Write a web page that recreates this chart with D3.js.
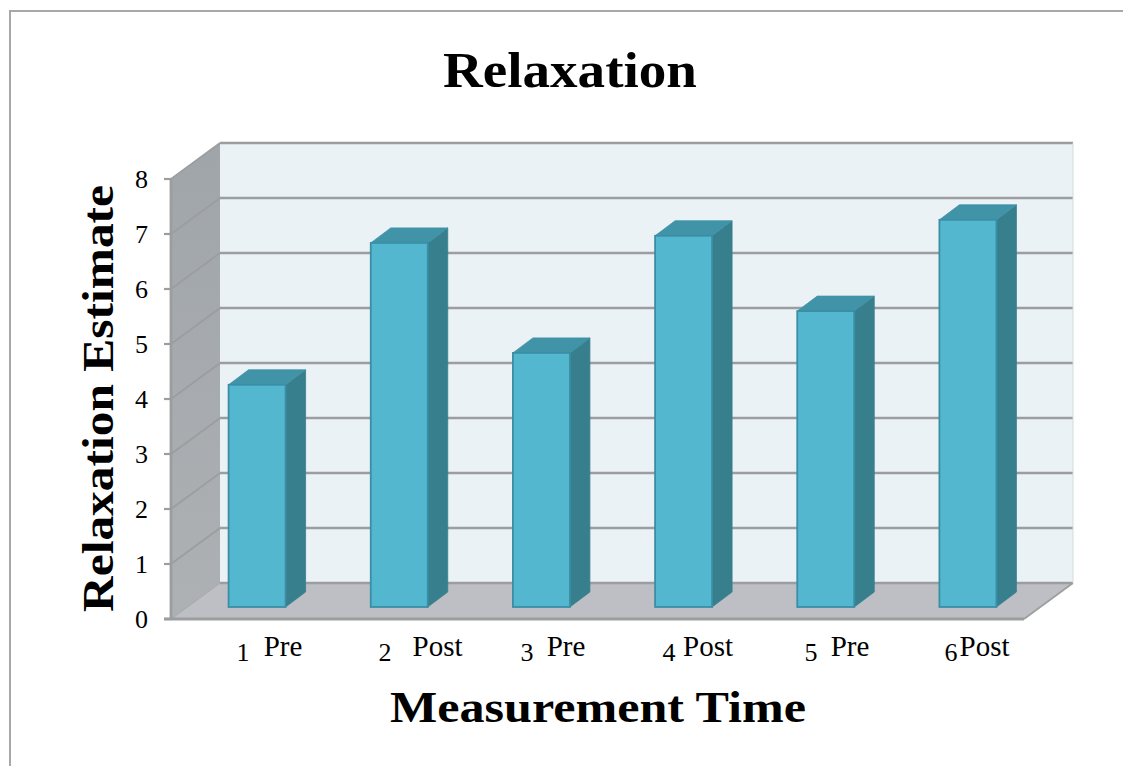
<!DOCTYPE html>
<html><head><meta charset="utf-8">
<script src="https://cdn.jsdelivr.net/npm/d3@7/dist/d3.min.js"></script>
<style>html,body{margin:0;padding:0;background:#fff}svg{display:block}text{font-family:"Liberation Serif",serif;fill:#000}</style>
</head><body><div id="chart"></div>
<script>
const categories = ["1","2","3","4","5","6"];
const phases = ["Pre","Post","Pre","Post","Pre","Post"];
const values = [4.04,6.62,4.62,6.75,5.38,7.04];
const yTicks = [0,1,2,3,4,5,6,7,8];
const phaseX = [283,437.5,566,708,850,984.5];
const catX = [243,385,527,669,811,951];

const W=1123,H=766;
const svg=d3.select("#chart").append("svg").attr("width",W).attr("height",H);
const x=d3.scaleBand().domain(categories).range([171,1024]);
const y=d3.scaleLinear().domain([0,8]).range([619,179]);
const wallDx=49,wallDy=-36, barShiftX=15,barShiftY=-12, barDx=20,barDy=-15, barW=57;
const line="#9c9d9e";

svg.append("path").attr("d",`M10,${H}V11H${W}`).attr("fill","none").attr("stroke","#a8a8a8").attr("stroke-width",2);

// walls
const xl=x.range()[0], xr=x.range()[1];
const defs=svg.append("defs");
const g=defs.append("linearGradient").attr("id","side").attr("x1",0).attr("x2",0).attr("y1",0).attr("y2",1);
g.append("stop").attr("offset",0).attr("stop-color","#a0a5a9");
g.append("stop").attr("offset",1).attr("stop-color","#adb1b4");
svg.append("rect").attr("x",xl+wallDx).attr("y",y(8)+wallDy).attr("width",xr-xl).attr("height",y(0)-y(8)).attr("fill","#eaf2f6");
svg.append("path").attr("d",`M${xl},${y(0)}L${xl+wallDx},${y(0)+wallDy}V${y(8)+wallDy}L${xl},${y(8)}Z`).attr("fill","url(#side)");
svg.append("path").attr("d",`M${xl},${y(0)}L${xl+wallDx},${y(0)+wallDy}H${xr+wallDx}L${xr},${y(0)}Z`).attr("fill","#bdbfc4");

// gridlines
svg.selectAll(".gw").data(yTicks).join("line").attr("x1",xl+wallDx).attr("x2",xr+wallDx)
 .attr("y1",d=>y(d)+wallDy).attr("y2",d=>y(d)+wallDy).attr("stroke",line).attr("stroke-width",2.6);
svg.selectAll(".gs").data(yTicks.slice(1)).join("line").attr("x1",xl).attr("x2",xl+wallDx)
 .attr("y1",d=>y(d)).attr("y2",d=>y(d)+wallDy).attr("stroke",line).attr("stroke-width",1.8);
svg.append("line").attr("x1",xl).attr("x2",xl+wallDx).attr("y1",y(0)).attr("y2",y(0)+wallDy).attr("stroke","#a9abae").attr("stroke-width",1.2);
svg.append("line").attr("x1",xr).attr("x2",xr+wallDx).attr("y1",y(0)).attr("y2",y(0)+wallDy).attr("stroke",line).attr("stroke-width",1.6);
svg.append("line").attr("x1",xr+wallDx).attr("x2",xr+wallDx).attr("y1",y(8)+wallDy).attr("y2",y(0)+wallDy).attr("stroke","#d5dadd").attr("stroke-width",1);

// axes
svg.append("line").attr("x1",xl).attr("x2",xl).attr("y1",y(8)).attr("y2",y(0)).attr("stroke",line).attr("stroke-width",2.8);
svg.append("line").attr("x1",xl-7).attr("x2",xr).attr("y1",y(0)).attr("y2",y(0)).attr("stroke",line).attr("stroke-width",2.8);
svg.selectAll(".tk").data(yTicks).join("line").attr("x1",xl-7).attr("x2",xl).attr("y1",d=>y(d)).attr("y2",d=>y(d)).attr("stroke",line).attr("stroke-width",2.2);
svg.selectAll(".tl").data(yTicks).join("text").attr("x",148).attr("y",d=>y(d)+9).attr("text-anchor","end").attr("font-size",26).text(d=>d);

// bars
const bars=svg.selectAll(".bar").data(categories.map((c,i)=>({c,v:values[i]}))).join("g");
const bx=d=>x(d.c)+x.bandwidth()/2+barShiftX-barW/2;
const by0=y(0)+barShiftY, by=d=>y(d.v)+barShiftY;
bars.append("path").attr("d",d=>`M${bx(d)+barW},${by(d)}l${barDx},${barDy}V${by0+barDy}l${-barDx},${-barDy}Z`).attr("fill","#387f8e").attr("stroke","#387f8e").attr("stroke-width",.8);
bars.append("path").attr("d",d=>`M${bx(d)},${by(d)}l${barDx},${barDy}h${barW}l${-barDx},${-barDy}Z`).attr("fill","#4193a8").attr("stroke","#3f92a7").attr("stroke-width",.8);
bars.append("rect").attr("x",bx).attr("y",by).attr("width",barW).attr("height",d=>by0-by(d)).attr("fill","#53b7d0").attr("stroke","#3a8ea5").attr("stroke-width",1.8);

// category labels
svg.selectAll(".cl").data(categories).join("text").attr("x",(d,i)=>catX[i]).attr("y",661).attr("text-anchor","middle").attr("font-size",26).text(d=>d);
svg.selectAll(".pl").data(phases).join("text").attr("x",(d,i)=>phaseX[i]).attr("y",656).attr("text-anchor","middle").attr("font-size",29).text(d=>d);

// titles
svg.append("text").attr("x",570).attr("y",87).attr("text-anchor","middle").attr("font-size",50).attr("font-weight","bold").attr("textLength",254).attr("lengthAdjust","spacingAndGlyphs").text("Relaxation");
svg.append("text").attr("x",598).attr("y",722).attr("text-anchor","middle").attr("font-size",44).attr("font-weight","bold").attr("textLength",416).attr("lengthAdjust","spacingAndGlyphs").text("Measurement Time");
svg.append("text").attr("transform","translate(113,398.5) rotate(-90)").attr("text-anchor","middle").attr("font-size",44).attr("font-weight","bold").attr("textLength",427).attr("lengthAdjust","spacingAndGlyphs").text("Relaxation Estimate");
</script></body></html>
